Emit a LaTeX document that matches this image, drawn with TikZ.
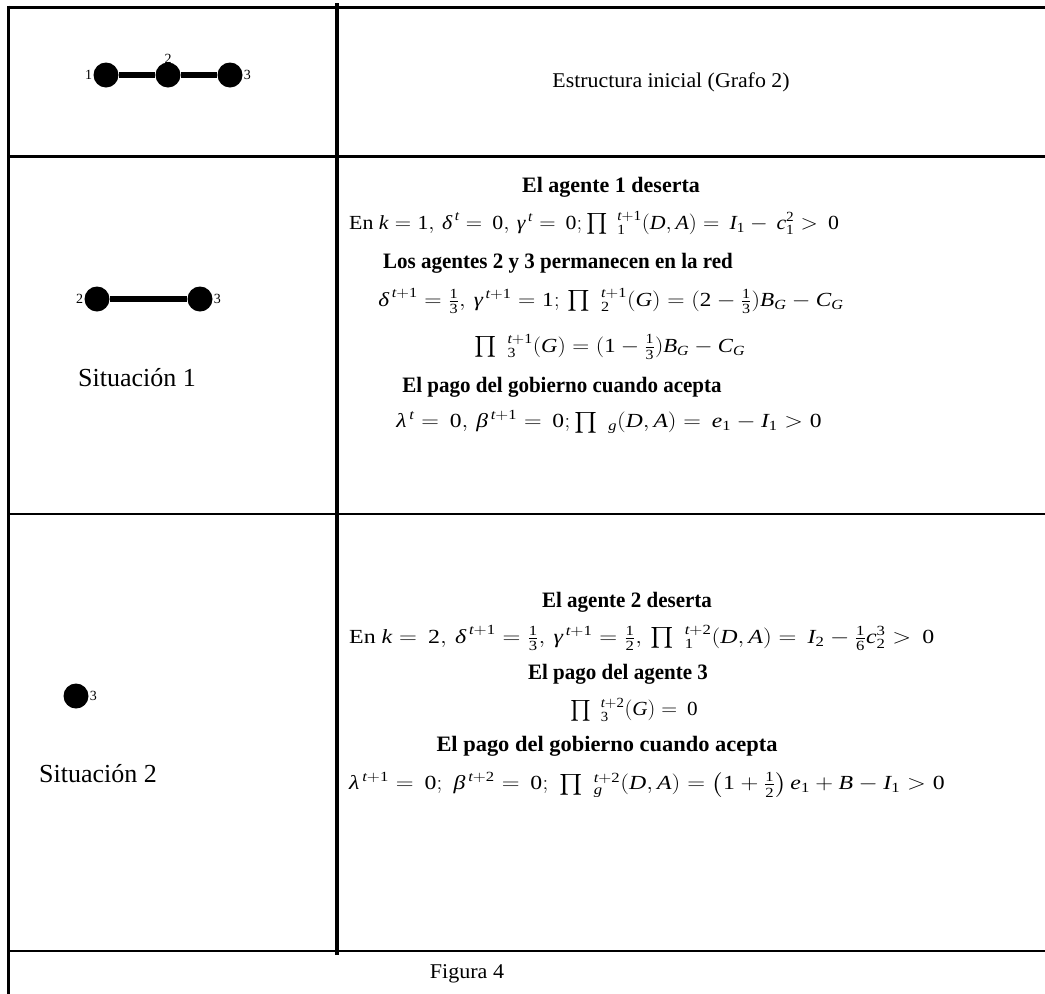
\documentclass[tikz,border=0pt]{standalone}
\usepackage{amsmath}
\usepackage{graphicx}
\usepackage{fontspec}
\setmainfont{Liberation Serif}
\newcommand\mi[1]{\textit{#1}}
\newcommand\mr[1]{\textup{#1}}
\newcommand\hs[2]{\scalebox{#1}[1]{#2}}
\begin{document}
\begin{tikzpicture}[x=1pt,y=-1pt,
  thickrule/.style={line width=3pt},
  thinrule/.style={line width=1.5pt},
  vert/.style={circle,fill=black,inner sep=0pt,minimum size=25pt},
  edgeline/.style={line width=6pt},
  lbl/.style={font=\fontsize{14}{16}\selectfont,inner sep=0pt},
  txt/.style={font=\fontsize{21}{25}\selectfont,inner sep=0pt},
  sit/.style={font=\fontsize{26}{30}\selectfont,inner sep=0pt},
  head/.style={font=\fontsize{22}{26}\selectfont\bfseries,inner sep=0pt},
  eq/.style={font=\fontsize{20}{24}\selectfont,inner sep=0pt}]
\useasboundingbox (0,0) rectangle (1045,994);
% table rules
\draw[thickrule] (8,7) -- (1045,7);
\draw[thickrule] (8,156) -- (1045,156);
\draw[thinrule] (8,514) -- (1045,514);
\draw[thinrule] (8,951) -- (1045,951);
\draw[thickrule] (8,5.5) -- (8,994);
\draw[line width=3.5pt] (337,3) -- (337,955);
% initial graph
\node[vert] (a1) at (106,75) {};
\node[vert] (a2) at (168,75) {};
\node[vert] (a3) at (230,75) {};
\draw[edgeline] (a1) -- (a2) -- (a3);
\node[lbl,anchor=east] at ([xshift=-1pt]a1.west) {1};
\node[lbl,anchor=south] at ([yshift=-1pt]a2.north) {2};
\node[lbl,anchor=west] at ([xshift=1pt]a3.east) {3};
\node[txt] (t0) at (671,82) {\hs{1.04}{Estructura inicial (Grafo 2)}};
% situation 1
\node[vert] (b2) at (97,299) {};
\node[vert] (b3) at (200,299) {};
\draw[edgeline] (b2) -- (b3);
\node[lbl,anchor=east] at ([xshift=-1pt]b2.west) {2};
\node[lbl,anchor=west] at ([xshift=1pt]b3.east) {3};
\node[sit] (s1) at (137,378) {Situación 1};
\node[head] (h1) at (611,187) {\hs{1.0}{El agente 1 deserta}};
\node[eq,anchor=west] (e1) at (349,223) {\hs{1.092}{En $\mi{k}=\mr{1},\,\mi{δ}^{\,\mi{t}}=\,\mr{0},\,\mi{γ}^{\,\mi{t}}=\,\mr{0};\prod\;{}_{\mr{1}}^{\mi{t}+\mr{1}}(\mi{D},\mi{A})=\,\mi{I}_{\mr{1}}-\,\mi{c}_{\mr{1}}^{\mr{2}}>\,\mr{0}$}};
\node[head] (h2) at (558,263) {\hs{0.955}{Los agentes 2 y 3 permanecen en la red}};
\node[eq] (e2) at (611,301) {\hs{1.158}{$\mi{δ}^{\,\mi{t}+\mr{1}}=\tfrac{\mr{1}}{\mr{3}},\,\mi{γ}^{\,\mi{t}+\mr{1}}=\mr{1};\,\prod\;{}_{\mr{2}}^{\mi{t}+\mr{1}}(\mi{G})=(\mr{2}-\tfrac{\mr{1}}{\mr{3}})\mi{B}_{\mi{G}}-\mi{C}_{\mi{G}}$}};
\node[eq] (e3) at (610,347) {\hs{1.134}{$\prod\;{}_{\mr{3}}^{\mi{t}+\mr{1}}(\mi{G})=(\mr{1}-\tfrac{\mr{1}}{\mr{3}})\mi{B}_{\mi{G}}-\mi{C}_{\mi{G}}$}};
\node[head] (h3) at (562,387) {\hs{0.955}{El pago del gobierno cuando acepta}};
\node[eq] (e4) at (609,422) {\hs{1.178}{$\mi{λ}^{\,\mi{t}}=\,\mr{0},\,\mi{β}^{\,\mi{t}+\mr{1}}=\,\mr{0};\prod\;{}_{\mi{g}}(\mi{D},\mi{A})=\,\mi{e}_{\mr{1}}-\mi{I}_{\mr{1}}>\mr{0}$}};
% situation 2
\node[vert] (c3) at (76,696) {};
\node[lbl,anchor=west] at ([xshift=1pt]c3.east) {3};
\node[sit] (s2) at (98,774) {Situación 2};
\node[head] (h4) at (627,602) {\hs{0.955}{El agente 2 deserta}};
\node[eq,anchor=west] (e5) at (349,638) {\hs{1.195}{En $\mi{k}=\,\mr{2},\,\mi{δ}^{\,\mi{t}+\mr{1}}=\tfrac{\mr{1}}{\mr{3}},\,\mi{γ}^{\,\mi{t}+\mr{1}}=\tfrac{\mr{1}}{\mr{2}},\,\prod\;{}_{\mr{1}}^{\mi{t}+\mr{2}}(\mi{D},\mi{A})=\,\mi{I}_{\mr{2}}-\tfrac{\mr{1}}{\mr{6}}\mi{c}_{\mr{2}}^{\mr{3}}>\,\mr{0}$}};
\node[head] (h5) at (618,674) {\hs{0.955}{El pago del agente 3}};
\node[eq] (e6) at (634,710) {\hs{1.06}{$\prod\;{}_{\mr{3}}^{\mi{t}+\mr{2}}(\mi{G})=\,\mr{0}$}};
\node[head] (h6) at (607,746) {\hs{1.02}{El pago del gobierno cuando acepta}};
\node[eq,anchor=west] (e7) at (349,785) {\hs{1.19}{$\mi{λ}^{\,\mi{t}+\mr{1}}=\,\mr{0};\;\mi{β}^{\,\mi{t}+\mr{2}}=\,\mr{0};\;\prod\;{}_{\mi{g}}^{\mi{t}+\mr{2}}(\mi{D},\mi{A})=\left(\mr{1}+\tfrac{\mr{1}}{\mr{2}}\right)\mi{e}_{\mr{1}}+\mi{B}-\mi{I}_{\mr{1}}>\mr{0}$}};
% caption
\node[txt] (fig) at (467,974) {\hs{1.05}{Figura 4}};
\end{tikzpicture}
\end{document}
